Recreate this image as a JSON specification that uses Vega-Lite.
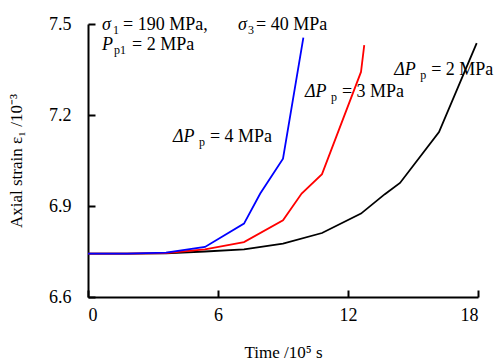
{
  "$schema": "https://vega.github.io/schema/vega-lite/v6.json",
  "autosize": "none",
  "width": 390,
  "height": 273,
  "padding": {"left": 88, "top": 24, "right": 22, "bottom": 66},
  "config": {
    "view": {"stroke": null},
    "font": "Liberation Serif, Times New Roman, serif",
    "text": {"font": "Liberation Serif, Times New Roman, serif", "fontSize": 18, "color": "black", "align": "left", "baseline": "alphabetic"},
    "axis": {
      "grid": false,
      "domainColor": "black",
      "domainWidth": 2,
      "tickColor": "black",
      "tickWidth": 2,
      "tickSize": -7,
      "labelFont": "Liberation Serif, Times New Roman, serif",
      "labelFontSize": 18,
      "labelColor": "black",
      "titleFont": "Liberation Serif, Times New Roman, serif",
      "titleFontSize": 17,
      "titleFontWeight": "normal",
      "titleColor": "black"
    }
  },
  "datasets": {
    "curves": [
      {"series": "dp2", "t": 0, "strain": 6.743},
      {"series": "dp2", "t": 1.8, "strain": 6.743},
      {"series": "dp2", "t": 3.6, "strain": 6.744},
      {"series": "dp2", "t": 5.4, "strain": 6.75},
      {"series": "dp2", "t": 7.2, "strain": 6.757},
      {"series": "dp2", "t": 9.0, "strain": 6.776},
      {"series": "dp2", "t": 10.8, "strain": 6.811},
      {"series": "dp2", "t": 12.6, "strain": 6.875},
      {"series": "dp2", "t": 13.7, "strain": 6.939},
      {"series": "dp2", "t": 14.4, "strain": 6.976},
      {"series": "dp2", "t": 15.3, "strain": 7.06},
      {"series": "dp2", "t": 16.2, "strain": 7.144},
      {"series": "dp2", "t": 17.94, "strain": 7.437},
      {"series": "dp3", "t": 0, "strain": 6.743},
      {"series": "dp3", "t": 1.8, "strain": 6.743},
      {"series": "dp3", "t": 3.6, "strain": 6.745},
      {"series": "dp3", "t": 5.4, "strain": 6.757},
      {"series": "dp3", "t": 7.2, "strain": 6.781},
      {"series": "dp3", "t": 9.0, "strain": 6.853},
      {"series": "dp3", "t": 9.86, "strain": 6.941},
      {"series": "dp3", "t": 10.8, "strain": 7.005},
      {"series": "dp3", "t": 12.6, "strain": 7.342},
      {"series": "dp3", "t": 12.75, "strain": 7.43},
      {"series": "dp4", "t": 0, "strain": 6.743},
      {"series": "dp4", "t": 1.8, "strain": 6.743},
      {"series": "dp4", "t": 3.6, "strain": 6.746},
      {"series": "dp4", "t": 5.4, "strain": 6.765},
      {"series": "dp4", "t": 7.2, "strain": 6.842},
      {"series": "dp4", "t": 7.95, "strain": 6.941},
      {"series": "dp4", "t": 9.0, "strain": 7.056},
      {"series": "dp4", "t": 9.94, "strain": 7.455}
    ],
    "conditions": [
      {"t": 0.646, "strain": 7.48, "line": "stress"}
    ],
    "pressure": [
      {"t": 0.646, "strain": 7.414, "value": "= 2 MPa"}
    ],
    "increments": [
      {"t": 3.92, "strain": 7.11, "value": "= 4 MPa"},
      {"t": 10.01, "strain": 7.259, "value": "= 3 MPa"},
      {"t": 14.13, "strain": 7.331, "value": "= 2 MPa"}
    ]
  },
  "encoding": {
    "x": {"field": "t", "type": "quantitative"},
    "y": {"field": "strain", "type": "quantitative"}
  },
  "layer": [
    {
      "data": {"name": "curves"},
      "mark": {"type": "line", "strokeWidth": 1.8, "clip": false},
      "encoding": {
        "x": {
          "field": "t", "type": "quantitative",
          "scale": {"domain": [0, 18], "nice": false},
          "axis": {"values": [0, 6, 12, 18], "title": "Time /10⁵ s", "labelPadding": 16, "titlePadding": 20}
        },
        "y": {
          "field": "strain", "type": "quantitative",
          "scale": {"domain": [6.6, 7.5], "nice": false, "zero": false},
          "axis": {"values": [6.6, 6.9, 7.2, 7.5], "format": ".1f", "title": "Axial strain ε₁ /10⁻³", "labelPadding": 24, "titlePadding": 23}
        },
        "color": {
          "field": "series", "type": "nominal",
          "scale": {"domain": ["dp2", "dp3", "dp4"], "range": ["#000000", "#ff0000", "#0000ff"]},
          "legend": null
        },
        "order": {"field": "t", "type": "quantitative"}
      }
    },
    {"data": {"name": "conditions"}, "mark": {"type": "text", "font": "Liberation Serif", "fontStyle": "italic", "text": "σ"}},
    {"data": {"name": "conditions"}, "mark": {"type": "text", "font": "Liberation Serif", "fontSize": 12, "dx": 11, "dy": 4, "text": "1"}},
    {"data": {"name": "conditions"}, "mark": {"type": "text", "font": "Liberation Serif", "dx": 21, "text": "= 190 MPa,"}},
    {"data": {"name": "conditions"}, "mark": {"type": "text", "font": "Liberation Serif", "fontStyle": "italic", "dx": 136, "text": "σ"}},
    {"data": {"name": "conditions"}, "mark": {"type": "text", "font": "Liberation Serif", "fontSize": 12, "dx": 146, "dy": 4, "text": "3"}},
    {"data": {"name": "conditions"}, "mark": {"type": "text", "font": "Liberation Serif", "dx": 154, "text": "= 40 MPa"}},
    {"data": {"name": "pressure"}, "mark": {"type": "text", "font": "Liberation Serif", "fontStyle": "italic", "text": "P"}},
    {"data": {"name": "pressure"}, "mark": {"type": "text", "font": "Liberation Serif", "fontSize": 12, "dx": 12, "dy": 4, "text": "p1"}},
    {"data": {"name": "pressure"}, "mark": {"type": "text", "font": "Liberation Serif", "dx": 30}, "encoding": {"text": {"field": "value"}}},
    {"data": {"name": "increments"}, "mark": {"type": "text", "font": "Liberation Serif", "fontStyle": "italic", "text": "ΔP"}},
    {"data": {"name": "increments"}, "mark": {"type": "text", "font": "Liberation Serif", "fontSize": 12, "dx": 26, "dy": 4, "text": "p"}},
    {"data": {"name": "increments"}, "mark": {"type": "text", "font": "Liberation Serif", "dx": 37}, "encoding": {"text": {"field": "value"}}}
  ]
}
